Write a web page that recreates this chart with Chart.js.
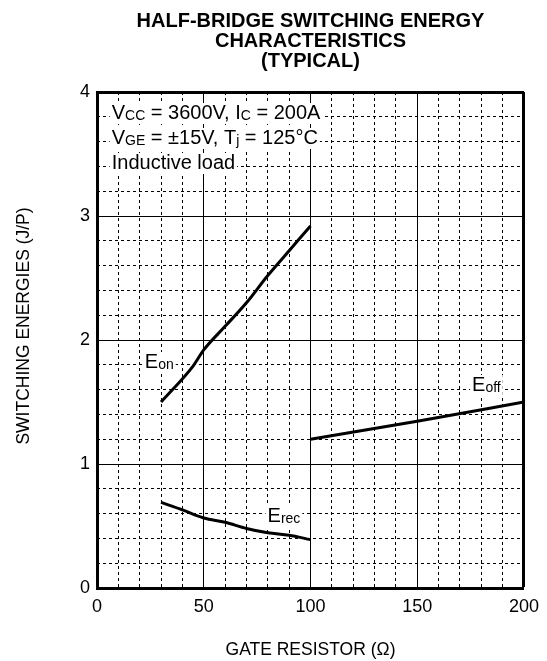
<!DOCTYPE html>
<html>
<head>
<meta charset="utf-8">
<script src="https://cdn.jsdelivr.net/npm/chart.js@4.4.0/dist/chart.umd.min.js"></script>
<style>
  html, body { margin: 0; padding: 0; background: #fff; }
</style>
</head>
<body>
<canvas id="chart" width="547" height="661"></canvas>
<script>
// values
const eonR = [30, 45, 50, 60, 70, 80, 90, 100];
const eonE = [1.50, 1.79, 1.92, 2.11, 2.30, 2.52, 2.72, 2.92];
const eoffR = [100, 150, 200];
const eoffE = [1.20, 1.345, 1.50];
const erecR = [30, 40, 50, 60, 70, 80, 90, 100];
const erecE = [0.69, 0.63, 0.565, 0.53, 0.48, 0.445, 0.425, 0.39];

const titleLines = ['HALF-BRIDGE SWITCHING ENERGY', 'CHARACTERISTICS', '(TYPICAL)'];
const xTitle = 'GATE RESISTOR (\u03A9)';
const yTitle = 'SWITCHING ENERGIES (J/P)';

// rich text: [text, small?]
const conditions = [
  [['V', 0], ['CC', 1], [' = 3600V, I', 0], ['C', 1], [' = 200A', 0]],
  [['V', 0], ['GE', 1], [' = \u00B115V, T', 0], ['j', 1], [' = 125\u00B0C', 0]],
  [['Inductive load', 0]]
];
const condX = 6.9;
const condY = [3.782, 3.581, 3.379];

const curveLabels = [
  { parts: [['E', 0], ['on', 1]], x: 22.4, y: 1.774 },
  { parts: [['E', 0], ['off', 1]], x: 175.7, y: 1.589 },
  { parts: [['E', 0], ['rec', 1]], x: 79.9, y: 0.532 }
];

const FONT = '"Liberation Sans", Arial, Helvetica, sans-serif';
const BIG = 20, SMALL = 14;

function pts(xs, ys) {
  return xs.map((v, i) => ({ x: v, y: ys[i] }));
}

function richWidth(ctx, parts) {
  let w = 0;
  parts.forEach(([t, s]) => {
    ctx.font = (s ? SMALL : BIG) + 'px ' + FONT;
    w += ctx.measureText(t).width;
  });
  return w;
}

function drawRich(ctx, parts, x, y) {
  const w = richWidth(ctx, parts);
  ctx.fillStyle = '#fff';
  ctx.fillRect(x - 2, y - 16, w + 4, 21);
  ctx.fillStyle = '#000';
  ctx.textBaseline = 'alphabetic';
  ctx.textAlign = 'left';
  let cx = x;
  parts.forEach(([t, s]) => {
    ctx.font = (s ? SMALL : BIG) + 'px ' + FONT;
    ctx.fillText(t, cx, y + (s ? 1 : 0));
    cx += ctx.measureText(t).width;
  });
}

const notes = {
  id: 'notes',
  afterDatasetsDraw(chart) {
    const { ctx, chartArea, scales: { x, y } } = chart;
    ctx.save();
    conditions.forEach((parts, i) => {
      drawRich(ctx, parts, x.getPixelForValue(condX), y.getPixelForValue(condY[i]));
    });
    curveLabels.forEach(l => {
      drawRich(ctx, l.parts, x.getPixelForValue(l.x), y.getPixelForValue(l.y));
    });
    // y axis title
    ctx.translate(24, (chartArea.top + chartArea.bottom) / 2 - 14);
    ctx.rotate(-Math.PI / 2);
    ctx.font = '17.5px ' + FONT;
    ctx.fillStyle = '#000';
    ctx.textAlign = 'center';
    ctx.textBaseline = 'middle';
    ctx.fillText(yTitle, 0, 0);
    ctx.restore();
  }
};

const line = (data) => ({
  data: data,
  borderColor: '#000',
  borderWidth: 3,
  pointRadius: 0,
  fill: false,
  cubicInterpolationMode: 'monotone',
  xAxisID: 'x',
  yAxisID: 'y'
});

new Chart(document.getElementById('chart').getContext('2d'), {
  type: 'line',
  data: {
    datasets: [
      line(pts(eonR, eonE)),
      line(pts(eoffR, eoffE)),
      line(pts(erecR, erecE))
    ]
  },
  options: {
    responsive: false,
    animation: false,
    layout: { padding: { left: 0, right: 22, top: 0, bottom: 0 } },
    plugins: {
      legend: { display: false },
      tooltip: { enabled: false },
      title: {
        display: true,
        fullSize: false,
        text: titleLines,
        color: '#000',
        font: { family: FONT, size: 20, weight: 'bold', lineHeight: 1.0 },
        padding: { top: 11, bottom: 21 }
      }
    },
    scales: {
      xMinor: {
        type: 'linear', position: 'bottom', min: 0, max: 200,
        ticks: { display: false, stepSize: 10 },
        grid: { color: '#000', lineWidth: 1, drawTicks: false },
        border: { display: false, dash: [3, 3] },
        afterFit: s => { s.height = 0; }
      },
      yMinor: {
        type: 'linear', position: 'left', min: 0, max: 4,
        ticks: { display: false, stepSize: 0.2 },
        grid: { color: '#000', lineWidth: 1, drawTicks: false },
        border: { display: false, dash: [3, 3] },
        afterFit: s => { s.width = 0; }
      },
      x: {
        type: 'linear', position: 'bottom', min: 0, max: 200,
        ticks: { stepSize: 50, color: '#000', padding: 8, font: { family: FONT, size: 18 } },
        grid: {
          color: '#000', drawTicks: false,
          lineWidth: c => (c.tick && c.tick.value === 200 ? 3 : 1)
        },
        border: { color: '#000', width: 3 },
        title: {
          display: true, text: xTitle, color: '#000',
          font: { family: FONT, size: 17.5 }, padding: { top: 0, bottom: 0.5 }
        },
        afterFit: s => { s.height = 73; }
      },
      y: {
        type: 'linear', position: 'left', min: 0, max: 4,
        ticks: { stepSize: 1, color: '#000', padding: 7, font: { family: FONT, size: 18 } },
        grid: {
          color: '#000', drawTicks: false,
          lineWidth: c => (c.tick && c.tick.value === 4 ? 3 : 1)
        },
        border: { color: '#000', width: 3 },
        afterFit: s => { s.width = 97; }
      }
    }
  },
  plugins: [notes]
});
</script>
</body>
</html>
